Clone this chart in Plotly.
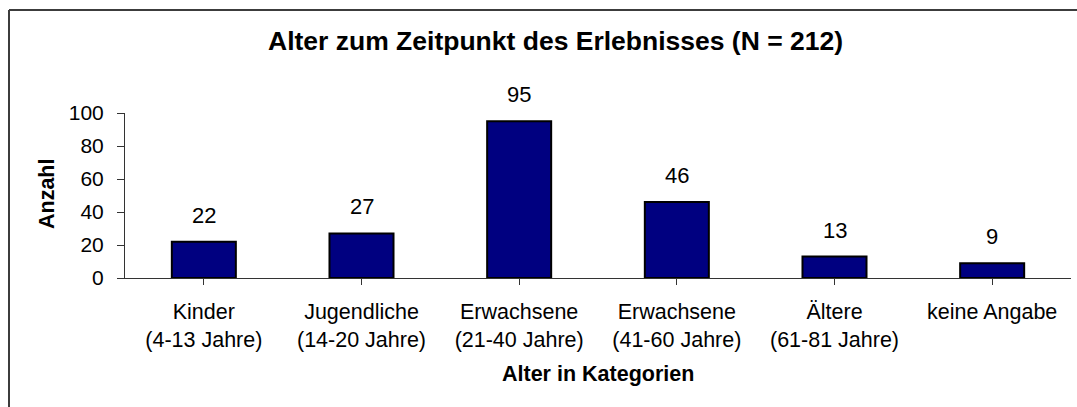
import plotly.graph_objects as go

categories = ["Kinder<br>(4-13 Jahre)", "Jugendliche<br>(14-20 Jahre)", "Erwachsene<br>(21-40 Jahre)",
              "Erwachsene<br>(41-60 Jahre)", "Ältere<br>(61-81 Jahre)", "keine Angabe"]
values = [22, 27, 95, 46, 13, 9]
y_ticks = [0, 20, 40, 60, 80, 100]
title_text = "Alter zum Zeitpunkt des Erlebnisses (N = 212)"
x_title = "Alter in Kategorien"
y_title = "Anzahl"

W, H = 1077, 407
L, R, T, B = 125, 6, 113, 129
PW, PH = W - L - R, H - T - B

def px(x):
    return (x - L) / PW

def py(y):
    return (H - B - y) / PH

FONT = "Liberation Sans, Arial, sans-serif"

fig = go.Figure()
fig.add_trace(go.Bar(
    x=list(range(len(categories))), y=values,
    marker=dict(color="#000080", line=dict(color="#000000", width=2)),
    hoverinfo="skip",
))

for i, v in enumerate(values):
    fig.add_annotation(x=i, y=v, xref="x", yref="y", text=str(v), showarrow=False,
                       yanchor="bottom", yshift=12, font=dict(family=FONT, size=22, color="#000"))

fig.add_annotation(x=px(555), y=py(41), xref="paper", yref="paper", text="<b>" + title_text + "</b>",
                   showarrow=False, xanchor="center", yanchor="middle",
                   font=dict(family=FONT, size=26.5, color="#000"))
fig.add_annotation(x=0.5, y=py(374), xref="paper", yref="paper", text="<b>" + x_title + "</b>",
                   showarrow=False, xanchor="center", yanchor="middle",
                   font=dict(family=FONT, size=21.5, color="#000"))
fig.add_annotation(x=px(47), y=py(194), xref="paper", yref="paper", text="<b>" + y_title + "</b>",
                   showarrow=False, textangle=-90, xanchor="center", yanchor="middle",
                   font=dict(family=FONT, size=21.5, color="#000"))

# chart area border (top and left edges visible)
fig.add_shape(type="line", xref="paper", yref="paper", x0=px(9), x1=px(1090), y0=py(10), y1=py(10),
              line=dict(color="#3c3c3c", width=2))
fig.add_shape(type="line", xref="paper", yref="paper", x0=px(9), x1=px(9), y0=py(10), y1=py(420),
              line=dict(color="#3c3c3c", width=2))

fig.update_layout(
    width=W, height=H,
    margin=dict(l=L, r=R, t=T, b=B, pad=0),
    paper_bgcolor="white", plot_bgcolor="white",
    showlegend=False, bargap=0.594,
    font=dict(family=FONT, size=21, color="#000"),
    xaxis=dict(
        tickmode="array", tickvals=list(range(len(categories))), ticktext=categories,
        range=[-0.5, len(categories) - 0.5],
        showline=True, linecolor="#333", linewidth=1,
        ticks="outside", tickson="boundaries", ticklen=6, tickcolor="#333", tickwidth=1,
        showgrid=False, zeroline=False, ticklabelstandoff=8,
        tickfont=dict(family=FONT, size=21.5, color="#000"),
    ),
    yaxis=dict(
        range=[0, 100], tickvals=y_ticks,
        showline=True, linecolor="#333", linewidth=1,
        ticks="outside", ticklen=7, tickcolor="#333", tickwidth=1,
        showgrid=False, zeroline=False, ticklabelstandoff=9,
        tickfont=dict(family=FONT, size=21, color="#000"),
    ),
)

fig.write_html("out.html", config={"displayModeBar": False},
               post_script="document.body.style.margin='0';document.body.style.overflow='hidden';")
